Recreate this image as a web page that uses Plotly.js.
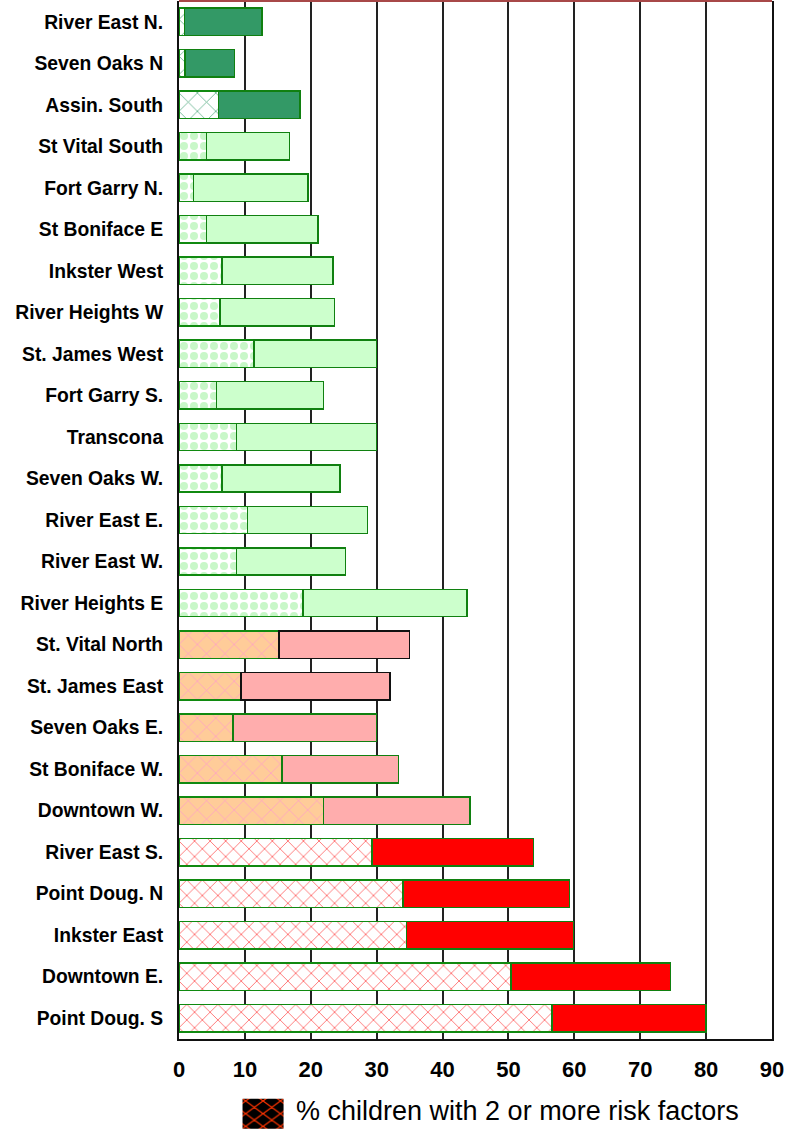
<!DOCTYPE html>
<html>
<head>
<meta charset="utf-8">
<script src="https://cdn.plot.ly/plotly-3.0.1.min.js"></script>
<style>body{margin:0;padding:0;background:#fff}#chart{width:802px;height:1130px}</style>
</head>
<body>
<div id="chart"></div>
<script>
const categories = ["River East N.","Seven Oaks N","Assin. South","St Vital South","Fort Garry N.","St Boniface E","Inkster West","River Heights W","St. James West","Fort Garry S.","Transcona","Seven Oaks W.","River East E.","River East W.","River Heights E","St. Vital North","St. James East","Seven Oaks E.","St Boniface W.","Downtown W.","River East S.","Point Doug. N","Inkster East","Downtown E.","Point Doug. S"];
// % children with 2 or more risk factors (hatched segment)
const twoPlus = [0.8,0.9,6.0,4.2,2.2,4.2,6.5,6.2,11.4,5.7,8.7,6.5,10.4,8.7,18.8,15.2,9.4,8.2,15.6,21.9,29.3,34.0,34.5,50.4,56.6];
// total bar length (% children with 1 or more risk factors)
const onePlus = [12.6,8.4,18.4,16.8,19.6,21.1,23.4,23.6,30.0,21.9,30.0,24.4,28.6,25.3,43.7,35.0,32.0,30.0,33.3,44.2,53.8,59.3,59.9,74.6,80.0];
// group of each area (0: dark green, 1: light green, 2: pink, 3: red)
const groups = [0,0,0,1,1,1,1,1,1,1,1,1,1,1,1,2,2,2,2,2,3,3,3,3,3];
const tickVals = [0,10,20,30,40,50,60,70,80,90];
const legendLabel = "% children with 2 or more risk factors";

const rest = onePlus.map((v,i)=> +(v - twoPlus[i]).toFixed(2));

const seg1Style = [
  {bg:"#ffffff", fg:"#5fb08a", shape:"x", size:13, sol:0.12},
  {bg:"#ffffff", fg:"#c8f7c8", shape:".", size:10, sol:0.5},
  {bg:"#ffcc99", fg:"#ff99cc", shape:"x", size:13, sol:0.1},
  {bg:"#ffffff", fg:"#ff4040", shape:"x", size:11, sol:0.12}
];
const seg2Col = ["#339966","#ccffcc","#ffadad","#ff0000"];
const blackOutline = ["St. Vital North","St. James East"];

const traces = [];
for (let g = 0; g < 4; g++) {
  const idx = categories.map((c,i)=>i).filter(i=>groups[i]===g);
  const st = seg1Style[g];
  traces.push({
    type:"bar", orientation:"h", showlegend:false,
    y: idx.map(i=>categories[i]), x: idx.map(i=>twoPlus[i]),
    marker:{color:st.bg, line:{color:"#108a10", width:1.5},
      pattern:{shape:st.shape, fgcolor:st.fg, bgcolor:st.bg, size:st.size, solidity:st.sol, fillmode:"replace"}}
  });
}
for (let g = 0; g < 4; g++) {
  const idx = categories.map((c,i)=>i).filter(i=>groups[i]===g);
  traces.push({
    type:"bar", orientation:"h", showlegend:false,
    y: idx.map(i=>categories[i]), x: idx.map(i=>rest[i]),
    marker:{color:seg2Col[g],
      line:{color: idx.map(i=> blackOutline.includes(categories[i]) ? "#111111" : "#108010"), width:1.5}}
  });
}
traces.push({
  type:"bar", orientation:"h", x:[null], y:[null], name:legendLabel, showlegend:true,
  marker:{color:"#000000", line:{color:"#000000", width:0},
    pattern:{shape:"x", fgcolor:"#ff3300", bgcolor:"#000000", size:4.5, solidity:0.22}}
});

const layout = {
  width:802, height:1130,
  margin:{l:179, r:30, t:1, b:91, autoexpand:false},
  paper_bgcolor:"#ffffff", plot_bgcolor:"#ffffff",
  barmode:"stack", bargap:0.34,
  font:{family:"Arial, Liberation Sans, sans-serif", color:"#000000"},
  xaxis:{
    range:[0,90], tickvals:tickVals, ticks:"", showgrid:true, gridcolor:"#222222", gridwidth:2,
    showline:true, linecolor:"#111111", linewidth:2, zeroline:false,
    tickfont:{size:22, weight:"bold", color:"#000000"}, ticklabelstandoff:10, fixedrange:true
  },
  yaxis:{
    type:"category", categoryorder:"array", categoryarray:categories, autorange:"reversed",
    ticks:"", showgrid:false,
    showline:true, linecolor:"#111111", linewidth:2, mirror:true,
    tickfont:{size:19.3, weight:"bold", color:"#000000"}, ticklabelstandoff:10
  },
  shapes:[{type:"line", xref:"paper", yref:"paper", x0:0, x1:1, y0:1, y1:1, line:{color:"#a84848", width:2}}],
  legend:{orientation:"h", x:0.0793, xanchor:"left", y:-0.068, yanchor:"middle", itemwidth:60,
    font:{size:27, color:"#000000"}, bgcolor:"rgba(0,0,0,0)"}
};

Plotly.newPlot("chart",traces,layout,{displayModeBar:false, staticPlot:true}).then(function(){
  const p = document.querySelector(".legend .legendpoints path");
  const t = document.querySelector(".legend .legendtext");
  if (p && t) {
    const orig = p.getAttribute("transform") || "";
    const sc = " scale(3.42,2.5)";
    p.setAttribute("transform", orig + sc);
    const pr = p.getBoundingClientRect();
    const tr = t.getBoundingClientRect();
    const dx = (tr.left - 53.5) - pr.left;
    const dy = (tr.top + tr.height/2 + 3 - pr.height/2) - pr.top;
    p.setAttribute("transform", "translate(" + dx + "," + dy + ") " + orig + sc);
  }
});
</script>
</body>
</html>
